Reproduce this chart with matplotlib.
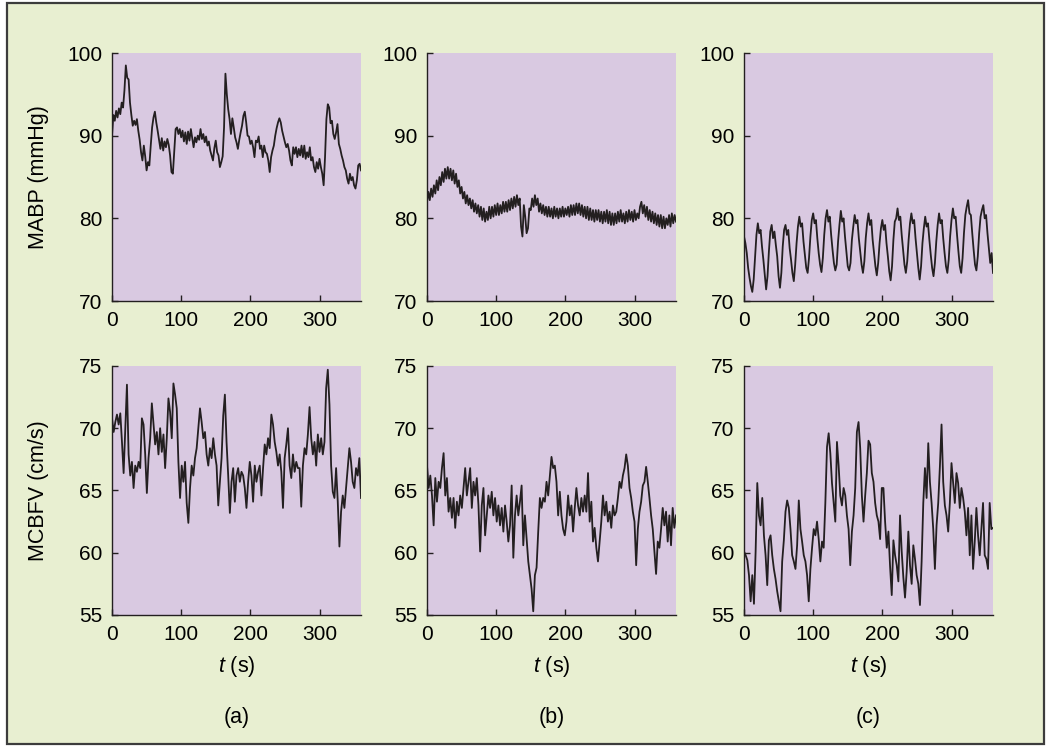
import numpy as np
import matplotlib
matplotlib.use("Agg")
import matplotlib.pyplot as plt
from matplotlib.patches import Rectangle

plt.rcParams['font.family'] = ['Liberation Sans', 'DejaVu Sans']
plt.rcParams['mathtext.fontset'] = 'custom'
plt.rcParams['mathtext.it'] = 'Liberation Sans:italic'
plt.rcParams['mathtext.rm'] = 'Liberation Sans'

# MABP (mmHg), sampled every 2 s
mabp_a = [
    90.0, 92.5, 91.8, 93.0, 92.2, 93.3, 92.6, 94.0, 93.4, 95.5,
    98.5, 97.0, 96.8, 94.0, 92.5, 91.2, 91.8, 91.3, 92.0, 90.6,
    89.5, 88.0, 87.0, 88.8, 87.5, 85.8, 86.8, 86.4, 88.8, 91.0,
    92.2, 92.9, 91.6, 90.6, 89.5, 88.4, 89.7, 88.2, 89.3, 88.6,
    89.6, 88.9, 87.6, 85.6, 85.4, 88.2, 90.8, 91.0, 90.2, 90.8,
    89.8, 90.6, 89.3, 90.4, 89.0, 90.5, 89.4, 90.8, 89.7, 88.6,
    89.8, 89.2, 90.0, 89.5, 90.8, 89.6, 90.2, 89.2, 89.9, 88.8,
    89.3, 88.2, 87.6, 87.0, 88.5, 89.4, 88.0, 87.6, 86.2, 86.8,
    87.5, 91.0, 97.5, 95.0, 93.2, 92.0, 90.2, 92.1, 91.0, 89.8,
    89.2, 88.4, 89.5, 90.4, 91.2, 92.4, 92.9, 91.6, 90.0, 89.9,
    89.0, 89.4, 88.6, 87.4, 89.4, 89.2, 89.9, 88.4, 88.8, 87.4,
    88.8, 88.0, 87.8, 87.0, 85.6, 87.4, 88.2, 88.8, 90.0, 90.9,
    91.6, 92.1, 91.6, 90.6, 89.9, 89.2, 88.6, 89.0, 88.2, 87.0,
    86.4, 88.6, 87.8, 88.6, 87.4, 88.4, 87.6, 88.8, 87.4, 88.8,
    87.2, 88.0, 87.4, 88.6, 87.0, 87.4, 86.2, 85.6, 86.8, 86.0,
    87.2, 86.2, 85.4, 84.0, 87.4, 92.0, 93.8, 93.4, 91.5, 91.8,
    90.2, 89.6, 90.4, 91.4, 89.0, 88.4, 87.6, 87.0, 86.2, 85.8,
    84.8, 84.2, 85.4, 84.6, 85.0, 84.0, 83.6, 84.6, 86.4, 86.6,
    85.8]

mabp_b = [
    82.0, 83.2, 82.2, 83.6, 82.6, 84.0, 83.0, 84.6, 83.4, 85.0,
    84.0, 85.6, 84.4, 86.0, 84.8, 86.2, 84.8, 86.0, 84.6, 85.8,
    84.2, 85.4, 83.8, 84.6, 83.0, 83.8, 82.4, 83.2, 81.8, 82.8,
    81.6, 82.4, 81.2, 82.2, 80.8, 81.8, 80.6, 81.6, 80.2, 81.4,
    79.8, 81.2, 79.6, 80.8, 79.8, 81.4, 80.0, 81.4, 80.2, 81.6,
    80.4, 81.8, 80.4, 81.6, 80.6, 82.0, 80.8, 82.0, 80.8, 82.2,
    81.0, 82.4, 81.2, 82.6, 81.4, 82.8, 81.6, 82.4, 79.0, 77.8,
    81.6, 80.2, 78.2, 78.8, 81.2, 81.0, 82.4, 81.4, 82.8, 81.6,
    82.4, 80.8, 81.8, 80.6, 81.6, 80.4, 81.4, 80.2, 81.4, 80.2,
    81.2, 80.0, 81.4, 80.2, 81.2, 80.0, 81.2, 80.2, 81.4, 80.2,
    81.2, 80.4, 81.4, 80.2, 81.6, 80.4, 81.6, 80.4, 81.8, 80.6,
    81.8, 80.4, 81.6, 80.2, 81.4, 80.0, 81.4, 79.8, 81.2, 79.8,
    81.0, 79.6, 81.0, 79.8, 81.0, 79.6, 80.8, 79.4, 80.8, 79.6,
    81.0, 79.4, 80.8, 79.2, 80.6, 79.2, 80.6, 79.4, 80.8, 79.6,
    81.0, 79.6, 80.6, 79.4, 80.8, 79.6, 81.0, 79.8, 80.8, 79.6,
    81.0, 79.8, 80.6, 80.0, 81.4, 82.0, 80.6, 81.6, 80.2, 81.4,
    79.8, 81.0, 79.6, 80.8, 79.4, 80.6, 79.2, 80.4, 79.0, 80.4,
    78.8, 80.2, 78.8, 80.0, 79.2, 80.4, 79.0, 80.6, 79.4, 80.4,
    79.6]

mabp_c = [
    77.8, 77.0, 75.8, 74.0, 72.8, 71.8, 71.1, 72.6, 75.2, 78.0,
    79.4, 78.2, 78.6, 76.6, 75.0, 73.2, 71.4, 73.0, 76.0, 78.4,
    79.2, 77.6, 78.4, 76.8, 75.4, 73.0, 71.6, 73.4, 76.6, 78.6,
    79.2, 78.0, 78.6, 76.4, 75.0, 73.4, 72.4, 74.4, 77.0, 79.0,
    80.2, 79.0, 79.4, 77.2, 75.6, 74.0, 73.4, 75.2, 77.8, 79.8,
    80.6, 79.4, 79.8, 77.6, 75.8, 74.4, 73.5, 75.2, 78.0, 80.0,
    81.0, 79.6, 80.2, 78.0, 76.2, 74.6, 73.7, 74.4, 77.2, 79.2,
    80.9, 79.6, 80.0, 77.8, 76.0, 74.2, 73.7, 74.6, 77.4, 79.0,
    80.4, 79.4, 79.8, 77.6, 76.0, 74.4, 73.4, 74.8, 77.6, 79.4,
    80.6, 79.2, 79.8, 77.4, 75.8, 74.2, 73.1, 74.6, 77.0, 78.8,
    79.8, 78.6, 79.2, 77.0, 75.4, 73.6, 72.5, 74.2, 77.4, 79.6,
    80.0, 81.2, 79.8, 80.2, 78.0, 76.2, 74.4, 73.4, 74.8, 77.4,
    79.4, 80.6, 79.4, 79.8, 77.6, 75.8, 74.0, 72.6, 74.2, 77.0,
    78.8, 80.2, 79.0, 79.4, 77.4, 75.6, 74.0, 73.0, 74.6, 77.2,
    79.2, 80.6, 79.4, 79.8, 77.6, 75.8, 74.2, 73.4, 75.0, 77.8,
    79.8, 81.2, 80.0, 80.2, 78.0, 76.0, 74.2, 73.4, 75.2, 78.2,
    80.4, 81.4, 82.2, 80.6, 80.4, 78.2, 76.2, 74.4, 73.7, 75.4,
    78.2, 80.2, 81.0, 81.6, 80.0, 80.4, 78.2, 76.4, 74.6, 75.8,
    73.4]

# MCBFV (cm/s), 151 samples over 0-360 s
mcbfv_a = [
    70.8, 69.7, 70.5, 71.1, 70.3, 71.2, 68.9, 66.4, 70.0, 73.5,
    67.9, 66.2, 67.3, 65.2, 67.0, 66.5, 67.3, 66.8, 70.8, 70.3,
    67.9, 64.8, 67.6, 69.2, 72.0, 70.3, 68.7, 69.7, 67.9, 70.0,
    68.1, 69.5, 66.8, 69.2, 72.4, 71.3, 69.2, 73.6, 72.7, 71.6,
    67.3, 64.4, 67.0, 65.7, 67.3, 64.0, 62.4, 65.2, 67.0, 66.2,
    67.6, 68.4, 70.0, 71.6, 70.5, 69.2, 69.7, 67.9, 67.0, 68.4,
    67.6, 69.2, 67.9, 67.0, 63.8, 65.7, 67.6, 71.0, 72.7, 68.9,
    66.2, 63.2, 65.7, 66.8, 64.1, 66.2, 66.8, 65.7, 66.5, 66.2,
    65.2, 63.6, 65.7, 67.3, 66.2, 64.1, 67.0, 65.7, 66.5, 67.0,
    64.6, 66.8, 68.7, 67.9, 69.2, 68.4, 71.1, 70.3, 68.9, 68.1,
    67.0, 67.9, 66.5, 63.6, 67.6, 68.7, 70.0, 67.0, 66.0, 67.9,
    66.5, 67.3, 66.8, 66.8, 63.7, 67.0, 68.4, 67.9, 69.5, 71.7,
    69.2, 67.9, 68.9, 67.0, 69.5, 68.1, 69.2, 67.9, 68.9, 73.2,
    74.7, 71.9, 67.0, 64.9, 64.4, 66.8, 64.1, 60.5, 63.3, 64.6,
    63.6, 65.2, 66.8, 68.4, 67.3, 65.7, 65.2, 66.8, 66.2, 67.6,
    64.4]

mcbfv_b = [
    67.0, 65.2, 66.2, 64.6, 62.2, 66.0, 64.1, 65.7, 65.2, 66.8,
    68.0, 64.6, 66.0, 63.3, 64.4, 62.8, 64.4, 62.0, 64.1, 63.0,
    64.6, 63.6, 65.2, 66.8, 64.6, 65.7, 66.8, 63.6, 65.7, 64.6,
    66.0, 63.8, 60.1, 63.8, 65.2, 61.4, 63.0, 64.6, 63.6, 64.9,
    63.0, 64.4, 62.5, 63.8, 62.2, 63.6, 61.7, 63.8, 62.5, 60.9,
    62.2, 65.4, 59.6, 63.0, 64.6, 63.0, 64.1, 65.4, 60.6, 63.0,
    61.1, 59.3, 58.2, 57.1, 55.3, 58.2, 58.8, 61.7, 64.4, 63.6,
    64.4, 64.1, 65.7, 64.6, 66.2, 67.7, 66.8, 67.0, 65.7, 63.0,
    64.9, 63.0, 61.9, 61.4, 62.5, 64.6, 63.0, 63.8, 61.7, 63.6,
    65.2, 63.8, 63.0, 64.4, 63.3, 64.6, 63.3, 66.4, 62.5, 64.1,
    60.9, 62.0, 60.4, 59.3, 60.9, 62.5, 64.6, 63.0, 64.1, 62.5,
    63.3, 62.0, 63.8, 63.0, 63.3, 64.4, 65.7, 65.2, 66.2, 66.8,
    67.9, 67.0, 65.2, 64.4, 63.3, 62.5, 59.0, 61.9, 63.3, 64.1,
    65.4, 65.7, 66.9, 65.7, 64.4, 63.0, 61.9, 60.1, 58.3, 60.9,
    60.4, 61.9, 63.6, 62.2, 63.3, 60.9, 63.0, 60.6, 63.6, 62.0,
    63.0]

mcbfv_c = [
    60.1, 59.8, 59.4, 58.2, 56.1, 58.2, 55.9, 60.1, 65.6, 63.0,
    62.2, 64.4, 61.4, 59.8, 57.4, 61.0, 61.4, 59.8, 58.7, 57.9,
    56.9, 56.1, 55.3, 59.3, 61.0, 63.3, 64.2, 63.6, 61.9, 59.8,
    59.3, 58.7, 60.6, 64.2, 61.9, 60.9, 59.8, 59.3, 58.2, 56.1,
    58.7, 60.4, 61.9, 61.4, 62.5, 61.1, 59.3, 60.9, 60.4, 64.0,
    68.5, 69.6, 68.0, 65.6, 64.0, 62.5, 68.9, 67.0, 64.6, 63.8,
    65.2, 64.6, 63.0, 61.9, 59.0, 61.7, 63.0, 65.2, 69.7, 70.5,
    68.4, 64.6, 62.5, 64.6, 66.4, 69.0, 68.7, 66.4, 65.7, 64.0,
    63.0, 62.5, 61.1, 65.2, 65.2, 62.5, 60.4, 61.7, 58.9, 56.6,
    61.0, 59.8, 59.0, 57.7, 63.0, 60.1, 58.0, 56.4, 58.5, 61.7,
    59.0, 57.5, 60.6, 59.5, 58.2, 57.5, 55.8, 59.3, 64.0, 66.8,
    64.4, 68.8, 65.7, 64.0, 61.9, 58.7, 62.2, 64.0, 66.9, 70.3,
    65.7, 63.8, 63.0, 61.7, 64.0, 67.2, 65.6, 64.0, 66.4, 65.6,
    63.6, 65.2, 64.4, 63.3, 61.4, 63.6, 59.8, 63.0, 58.7, 60.9,
    63.6, 61.4, 59.8, 61.9, 64.0, 59.8, 59.5, 58.7, 64.0, 61.9,
    62.0]

panel_tags = ['(a)', '(b)', '(c)']
x_ticks = [0, 100, 200, 300]
mabp_ticks = [70, 80, 90, 100]
mcbfv_ticks = [55, 60, 65, 70, 75]

green = '#e8efd1'
purple = '#d9c9e1'
ink = '#231f20'

fig = plt.figure(figsize=(10.5, 7.51), dpi=100, facecolor='white')
fig.patches.append(Rectangle((7 / 1050, 1 - 744 / 751), 1037 / 1050, 741 / 751,
                             transform=fig.transFigure, facecolor=green,
                             edgecolor='#3c3c3c', linewidth=1.6, zorder=-1))

lefts = [112 / 1050, 427 / 1050, 744 / 1050]
w = 249 / 1050
top_row = [1 - 301 / 751, 248 / 751]
bot_row = [1 - 615 / 751, 249 / 751]

tops = [mabp_a, mabp_b, mabp_c]
bots = [mcbfv_a, mcbfv_b, mcbfv_c]

def style(ax, ylim, yticks):
    ax.set_facecolor(purple)
    ax.set_xlim(0, 360)
    ax.set_ylim(*ylim)
    ax.set_xticks(x_ticks)
    ax.set_yticks(yticks)
    for s in ['top', 'right']:
        ax.spines[s].set_visible(False)
    for s in ['left', 'bottom']:
        ax.spines[s].set_color(ink)
        ax.spines[s].set_linewidth(1.0)
    ax.tick_params(direction='in', length=4, width=1, labelsize=15, pad=7,
                   colors=ink, labelcolor='black')

for i in range(3):
    ax = fig.add_axes([lefts[i], top_row[0], w, top_row[1]])
    v = np.array(tops[i])
    t = np.arange(len(v)) * 2.0
    ax.plot(t, v, color=ink, lw=1.3)
    style(ax, (70, 100), mabp_ticks)
    if i == 0:
        ax.set_ylabel('MABP (mmHg)', fontsize=15.5)
        ax.yaxis.set_label_coords(-0.255, 0.5)

    ax = fig.add_axes([lefts[i], bot_row[0], w, bot_row[1]])
    v = np.array(bots[i])
    t = np.linspace(0, 360, len(v))
    ax.plot(t, v, color=ink, lw=1.3)
    style(ax, (55, 75), mcbfv_ticks)
    ax.set_xlabel(r'$\mathit{t}$ (s)', fontsize=15.5)
    ax.xaxis.set_label_coords(0.5, -0.155)
    if i == 0:
        ax.set_ylabel('MCBFV (cm/s)', fontsize=15.5)
        ax.yaxis.set_label_coords(-0.255, 0.5)
    fig.text(lefts[i] + w / 2, 1 - 717 / 751, panel_tags[i], ha='center',
             va='center', fontsize=15.5)

fig.savefig('out.png', dpi=100, facecolor='white')
